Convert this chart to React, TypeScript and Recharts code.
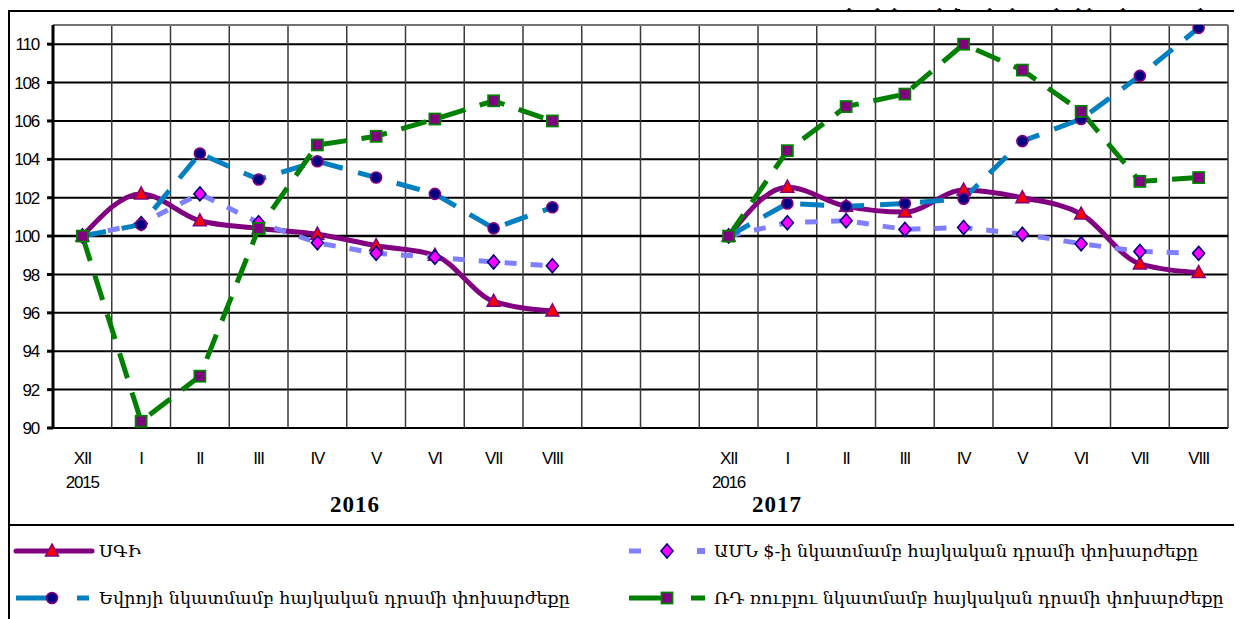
import React from 'react';
import { LineChart, Line, XAxis, YAxis, CartesianGrid, ReferenceLine } from 'recharts';

const months = ['XII', 'I', 'II', 'III', 'IV', 'V', 'VI', 'VII', 'VIII'];
const startYears = ['2015', '2016'];
const periodTitles = ['2016', '2017'];
const gapCount = 2;

const cpi2016 = [100, 102.2, 100.8, 100.4, 100.1, 99.5, 99.0, 96.6, 96.1];
const cpi2017 = [100, 102.55, 101.55, 101.25, 102.4, 102.0, 101.15, 98.55, 98.1];
const usd2016 = [100, 100.65, 102.2, 100.7, 99.65, 99.1, 98.9, 98.65, 98.45];
const usd2017 = [100, 100.7, 100.8, 100.35, 100.45, 100.1, 99.6, 99.2, 99.1];
const eur2016 = [100, 100.6, 104.3, 102.95, 103.9, 103.05, 102.2, 100.4, 101.5];
const eur2017 = [100, 101.7, 101.55, 101.7, 101.95, 104.95, 106.1, 108.35, 110.85];
const rub2016 = [100, 90.35, 92.7, 100.4, 104.75, 105.2, 106.1, 107.05, 106.0];
const rub2017 = [100, 104.45, 106.75, 107.4, 110.0, 108.65, 106.5, 102.85, 103.05];

const yTicks = [90, 92, 94, 96, 98, 100, 102, 104, 106, 108, 110];

const seriesNames = {
  cpi: 'ՍԳԻ',
  usd: 'ԱՄՆ $-ի նկատմամբ հայկական դրամի փոխարժեքը',
  eur: 'Եվրոյի նկատմամբ հայկական դրամի փոխարժեքը',
  rub: 'ՌԴ ռուբլու նկատմամբ հայկական դրամի  փոխարժեքը',
};

type Row = { x: number; label: string; year: string; cpi: number | null; usd: number | null; eur: number | null; rub: number | null };

const data: Row[] = [];
months.forEach((m, i) =>
  data.push({ x: data.length, label: m, year: i === 0 ? startYears[0] : '', cpi: cpi2016[i], usd: usd2016[i], eur: eur2016[i], rub: rub2016[i] })
);
for (let g = 0; g < gapCount; g++) data.push({ x: data.length, label: '', year: '', cpi: null, usd: null, eur: null, rub: null });
months.forEach((m, i) =>
  data.push({ x: data.length, label: m, year: i === 0 ? startYears[1] : '', cpi: cpi2017[i], usd: usd2017[i], eur: eur2017[i], rub: rub2017[i] })
);

const n = data.length;
const xDomain: [number, number] = [-0.5, n - 0.5];
const labelTicks = data.filter((d) => d.label !== '').map((d) => d.x);
const boundaryTicks = Array.from({ length: n + 1 }, (_, i) => i - 0.5);

const PURPLE = '#800080';
const USD_C = '#8080FF';
const EUR_C = '#0080C0';
const RUB_C = '#008000';

const AXIS_FONT = '"Liberation Sans", Arial, sans-serif';
const ARM_FONT = '"DejaVu Serif", serif';

const ok = (p: any) => p && p.cx != null && p.cy != null && p.value != null && !Number.isNaN(p.cy);

const Triangle = (p: any) => {
  if (!ok(p)) return null;
  const { cx, cy } = p;
  return <polygon key={`t${p.index}`} points={`${cx},${cy - 7} ${cx - 6.5},${cy + 5} ${cx + 6.5},${cy + 5}`} fill="#FF0000" stroke={PURPLE} strokeWidth={1.5} />;
};
const Diamond = (p: any) => {
  if (!ok(p)) return null;
  const { cx, cy } = p;
  return <polygon key={`d${p.index}`} points={`${cx},${cy - 7} ${cx + 6},${cy} ${cx},${cy + 7} ${cx - 6},${cy}`} fill="#FF00FF" stroke="#000080" strokeWidth={1.6} />;
};
const Circle = (p: any) => {
  if (!ok(p)) return null;
  return <circle key={`c${p.index}`} cx={p.cx} cy={p.cy} r={5.5} fill="#000080" stroke={PURPLE} strokeWidth={1.6} />;
};
const Square = (p: any) => {
  if (!ok(p)) return null;
  return <rect key={`s${p.index}`} x={p.cx - 5.5} y={p.cy - 5.5} width={11} height={11} fill={PURPLE} stroke={RUB_C} strokeWidth={1.8} />;
};

const XTick = (p: any) => {
  const row = data.find((d) => d.x === p.payload.value);
  if (!row) return null;
  return (
    <g>
      <text x={p.x} y={p.y} dy={34} textAnchor="middle" fontFamily={AXIS_FONT} fontSize={17} letterSpacing={-1.2} fill="#000">
        {row.label}
      </text>
      {row.year && (
        <text x={p.x} y={p.y} dy={58} textAnchor="middle" fontFamily={AXIS_FONT} fontSize={17} letterSpacing={-1.2} fill="#000">
          {row.year}
        </text>
      )}
    </g>
  );
};

const LegendIcon = ({ kind }: { kind: string }) => {
  if (kind === 'cpi')
    return (
      <svg width={82} height={16} style={{ display: 'block' }}>
        <line x1={3} y1={8} x2={79} y2={8} stroke={PURPLE} strokeWidth={5} strokeLinecap="round" />
        <polygon points="39,1 32.5,13 45.5,13" fill="#FF0000" stroke={PURPLE} strokeWidth={1.5} />
      </svg>
    );
  if (kind === 'eur')
    return (
      <svg width={82} height={16} style={{ display: 'block' }}>
        <line x1={3} y1={8} x2={39} y2={8} stroke={EUR_C} strokeWidth={5} />
        <circle cx={39} cy={8} r={5.5} fill="#000080" stroke={PURPLE} strokeWidth={1.6} />
        <rect x={64} y={5.5} width={12} height={5} fill={EUR_C} />
      </svg>
    );
  if (kind === 'usd')
    return (
      <svg width={82} height={16} style={{ display: 'block' }}>
        <rect x={1} y={5.5} width={12} height={5} fill={USD_C} />
        <polygon points="39,1 45,8 39,15 33,8" fill="#FF00FF" stroke="#000080" strokeWidth={1.6} />
        <rect x={69} y={5} width={8} height={6} fill={USD_C} />
      </svg>
    );
  return (
    <svg width={82} height={16} style={{ display: 'block' }}>
      <line x1={1} y1={8} x2={36} y2={8} stroke={RUB_C} strokeWidth={5} />
      <rect x={33.5} y={2.5} width={11} height={11} fill={PURPLE} stroke={RUB_C} strokeWidth={1.8} />
      <rect x={63} y={5.5} width={14} height={5} fill={RUB_C} />
    </svg>
  );
};

const legendItems = [
  { kind: 'cpi', left: 5, top: 533 },
  { kind: 'usd', left: 620, top: 533 },
  { kind: 'eur', left: 5, top: 580 },
  { kind: 'rub', left: 620, top: 580 },
];

export default function App() {
  return (
    <div style={{ position: 'relative', width: 1234, height: 611, overflow: 'hidden' }}>
      <div
        style={{
          position: 'absolute', right: 6, top: -18, fontFamily: ARM_FONT, fontSize: 17.5, color: '#000', whiteSpace: 'nowrap',
        }}
      >
        նախորդ տարվա դեկտեմբերի նկատմամբ, %
      </div>
      <div style={{ position: 'absolute', left: 0, top: 2, width: 1228, height: 700, border: '2px solid #000', boxSizing: 'border-box' }} />
      <div style={{ position: 'absolute', left: 0, top: 516, width: 1228, height: 2, background: '#000' }} />
      <div style={{ position: 'absolute', left: 0, top: 2 }}>
        <LineChart width={1228} height={516} data={data} margin={{ top: 15, right: 8, bottom: 38, left: 0 }}>
          <CartesianGrid vertical={false} stroke="#000" strokeWidth={2} />
          <CartesianGrid xAxisId="grid" horizontal={false} stroke="#3a3a3a" strokeWidth={1.5} />
          <XAxis xAxisId="grid" type="number" dataKey="x" domain={xDomain} ticks={boundaryTicks} hide allowDataOverflow />
          <XAxis
            type="number"
            dataKey="x"
            domain={xDomain}
            ticks={labelTicks}
            interval={0}
            tick={<XTick />}
            axisLine={false}
            tickLine={false}
            tickSize={0}
            height={60}
            allowDataOverflow
          />
          <YAxis
            domain={[90, 111]}
            ticks={yTicks}
            interval={0}
            width={45}
            axisLine={{ stroke: '#000', strokeWidth: 3 }}
            tickLine={{ stroke: '#000', strokeWidth: 3 }}
            tickSize={6}
            tickMargin={8}
            tick={{ fontFamily: AXIS_FONT, fontSize: 17, letterSpacing: -1.2, fill: '#000' }}
            allowDataOverflow
          />
          <ReferenceLine y={111} stroke="#999" strokeWidth={1.5} />
          <ReferenceLine y={100} stroke="#000" strokeWidth={2.5} />
          <Line dataKey="cpi" name={seriesNames.cpi} type="monotone" stroke={PURPLE} strokeWidth={5} dot={<Triangle />} activeDot={false} isAnimationActive={false} />
          <Line dataKey="usd" name={seriesNames.usd} type="linear" stroke={USD_C} strokeWidth={5} strokeDasharray="12 14" dot={<Diamond />} activeDot={false} isAnimationActive={false} />
          <Line dataKey="eur" name={seriesNames.eur} type="linear" stroke={EUR_C} strokeWidth={5} strokeDasharray="24 16" dot={<Circle />} activeDot={false} isAnimationActive={false} />
          <Line dataKey="rub" name={seriesNames.rub} type="linear" stroke={RUB_C} strokeWidth={5} strokeDasharray="26 15" dot={<Square />} activeDot={false} isAnimationActive={false} />
        </LineChart>
      </div>
      <div style={{ position: 'absolute', left: 322, top: 484, fontFamily: '"Liberation Serif", serif', fontWeight: 'bold', fontSize: 23, letterSpacing: 1 }}>{periodTitles[0]}</div>
      <div style={{ position: 'absolute', left: 744, top: 484, fontFamily: '"Liberation Serif", serif', fontWeight: 'bold', fontSize: 23, letterSpacing: 1 }}>{periodTitles[1]}</div>
      {legendItems.map((it) => (
        <div key={it.kind} style={{ position: 'absolute', left: it.left, top: it.top, display: 'flex', alignItems: 'center', whiteSpace: 'nowrap' }}>
          <LegendIcon kind={it.kind} />
          <span style={{ fontFamily: ARM_FONT, fontSize: 17.5, marginLeft: 4, color: '#000' }}>{(seriesNames as any)[it.kind]}</span>
        </div>
      ))}
    </div>
  );
}
